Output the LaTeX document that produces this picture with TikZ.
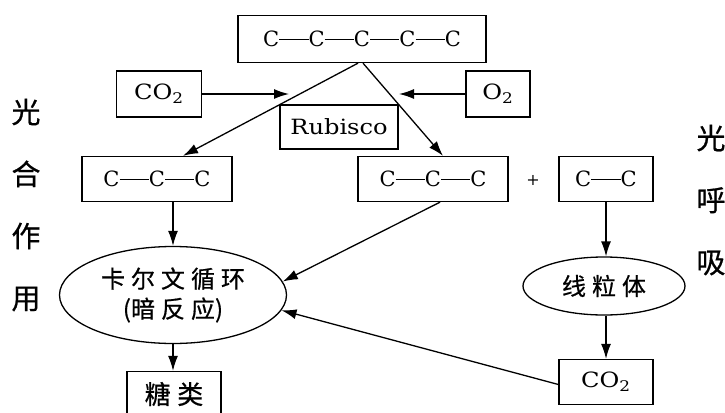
\documentclass[tikz,border=0pt]{standalone}
\usepackage{fontspec}
\usepackage{graphicx}
\usetikzlibrary{arrows.meta,shapes.geometric}
\newfontfamily\latina{DejaVu Serif}
\newfontfamily\cjk[FakeBold=0.6]{Noto Sans CJK SC}
\newfontfamily\cjkesp[FakeBold=0.6,LetterSpace=25]{Noto Sans CJK SC}
\newcommand{\enlace}{\rule[0.34em]{1.4em}{0.8pt}}
\newcommand{\ancho}[1]{\scalebox{1.15}[1]{#1}}

\begin{document}
\begin{tikzpicture}[x=1pt, y=-1pt,
  caja/.style={draw, line width=1.3pt, inner sep=0pt, minimum height=45pt, font=\latina\fontsize{21}{26}\selectfont},
  elipse/.style={draw, ellipse, line width=1.3pt, inner sep=0pt, align=center, font=\cjkesp\fontsize{24}{30}\selectfont},
  flecha/.style={line width=1.3pt, -{Latex[length=15pt,width=10pt]}},
  rotulo/.style={align=center, font=\cjk\fontsize{29}{62}\selectfont}]
  % Marco del dibujo
  \useasboundingbox (0,0) rectangle (725,412);
  \clip (0,0) rectangle (725,412);

  % Cadena de cinco carbonos y gases
  \node[caja, minimum width=248pt, minimum height=47pt] (c5) at (362,39) {C\enlace C\enlace C\enlace C\enlace C};
  \node[caja, minimum width=85pt, minimum height=46pt] (co2a) at (159,94) {\ancho{CO\textsubscript{2}}};
  \node[caja, minimum width=64pt, minimum height=46pt] (o2) at (498,94) {\ancho{O\textsubscript{2}}};
  \node[caja, minimum width=118pt, minimum height=44pt] (rub) at (339,127) {\ancho{Rubisco}};

  % Productos de la Rubisco
  \node[caja, minimum width=150pt] (ccc1) at (157,179) {C\enlace C\enlace C};
  \node[caja, minimum width=150pt] (ccc2) at (433,179) {C\enlace C\enlace C};
  \node[font=\latina\fontsize{16}{16}\selectfont] (mas) at (533,180) {+};
  \node[caja, minimum width=94pt] (cc) at (606,179) {C\enlace C};

  % Ciclo de Calvin y mitocondria
  \node[elipse, minimum width=227pt, minimum height=97pt] (calvin) at (173,295) {卡尔文循环\\{\cjk(}暗反应{\cjk)}};
  \node[elipse, minimum width=162pt, minimum height=58pt] (mito) at (604,286) {线粒体};
  \node[caja, minimum width=94pt] (co2b) at (606,382) {\ancho{CO\textsubscript{2}}};
  \node[caja, minimum width=94pt, font=\cjkesp\fontsize{26}{28}\selectfont] (azucar) at (174,394) {糖类};

  % Rótulos laterales
  \node[rotulo] (fs) at (26,205) {光\\合\\作\\用};
  \node[rotulo] (fr) at (711,200) {光\\呼\\吸};

  % Flechas
  \coordinate (pco2) at (289,94);
  \coordinate (po2) at (399,94);
  \draw[flecha] ([xshift=-4pt]c5.south) -- ([xshift=26pt]ccc1.north);
  \draw[flecha] ([xshift=1pt]c5.south) -- ([xshift=10pt]ccc2.north);
  \draw[flecha] (co2a.east) -- (pco2);
  \draw[flecha] (o2.west) -- (po2);
  \draw[flecha] (calvin.north |- ccc1.south) -- (calvin.north);
  \draw[flecha] ([xshift=7pt]ccc2.south) -- (calvin.7);
  \draw[flecha] (calvin.south) -- (calvin.south |- azucar.north);
  \draw[flecha] (cc.south) -- (cc.south |- mito.north);
  \draw[flecha] (co2b.north |- mito.south) -- (co2b.north);
  \draw[flecha] ([yshift=-2.5pt]co2b.west) -- (calvin.-8);
\end{tikzpicture}
\end{document}
